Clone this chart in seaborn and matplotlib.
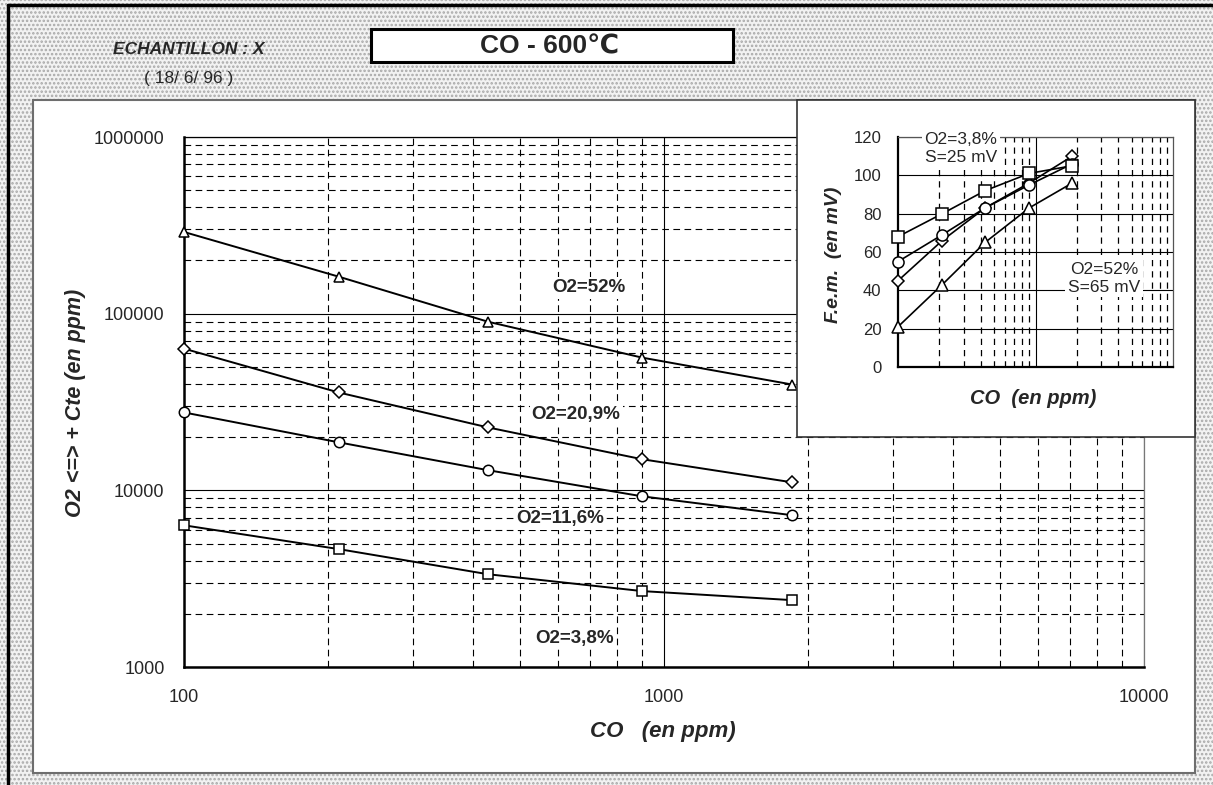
import matplotlib
matplotlib.use('Agg')
import matplotlib.pyplot as plt
from matplotlib.patches import Rectangle
from matplotlib.lines import Line2D
from matplotlib.ticker import LogLocator, NullFormatter, FixedLocator
import seaborn as sns

# CO concentration (ppm) of the measuring points
CO_PPM = [100, 210, 430, 900, 1850]

SERIES = ['O2=52%', 'O2=20,9%', 'O2=11,6%', 'O2=3,8%']
MARKERS = ['^', 'D', 'o', 's']

# main chart: O2 <=> + Cte (ppm)
EQ_52 = [290000, 162000, 90000, 56400, 39700]
EQ_209 = [63400, 35800, 22700, 15000, 11100]
EQ_116 = [27600, 18700, 13000, 9250, 7230]
EQ_38 = [6340, 4650, 3350, 2690, 2390]

# inset: F.e.m. (mV)
FEM_52 = [21, 43, 65, 83, 96]
FEM_209 = [45, 66, 83, 96, 110]
FEM_116 = [55, 69, 83, 95, 106]
FEM_38 = [68, 80, 92, 101, 105]

X_TICKS = [100, 1000, 10000]
Y_TICKS = [1000, 10000, 100000, 1000000]
INSET_Y_TICKS = [0, 20, 40, 60, 80, 100, 120]

W, H = 1213, 785


def fx(x):
    return x / W


def fy(y):
    return 1 - y / H


def box(x0, y0, x1, y1):
    # pixel box -> figure rect
    return [fx(x0), fy(y1), (x1 - x0) / W, (y1 - y0) / H]


DASH = (0, (6, 4))

sns.set_style('white')
plt.rcParams['font.family'] = ['Liberation Sans', 'DejaVu Sans']
plt.rcParams['hatch.linewidth'] = 1.2

fig = plt.figure(figsize=(W / 100, H / 100), dpi=100)

# stippled background
bg = Rectangle((0, 0), 1, 1, transform=fig.transFigure, facecolor='#f2f2f2',
               edgecolor='#a8a8a8', hatch='....', lw=0, zorder=-10)
fig.add_artist(bg)
fig.add_artist(Line2D([fx(8), fx(8)], [0, fy(5)], color='black', lw=2.5))
fig.add_artist(Line2D([fx(8), 1], [fy(5), fy(5)], color='black', lw=2.5))

# white panel
panel = Rectangle((fx(33), fy(773)), (1195 - 33) / W, (773 - 100) / H, transform=fig.transFigure,
                  facecolor='white', edgecolor='#6e6e6e', lw=1.5, zorder=-5)
fig.add_artist(panel)

# title box
tb = Rectangle((fx(371), fy(62)), (733 - 371) / W, (62 - 29) / H, transform=fig.transFigure,
               facecolor='white', edgecolor='black', lw=2.2, zorder=-5)
fig.add_artist(tb)
fig.text(fx(550), fy(46), 'CO - 600\u2103', ha='center', va='center', fontsize=19, weight='bold')
fig.text(fx(189), fy(50), 'ECHANTILLON : X', ha='center', va='center', fontsize=12.5,
         weight='bold', style='italic')
fig.text(fx(189), fy(78), '( 18/ 6/ 96 )', ha='center', va='center', fontsize=12.5)

# ---- main chart
ax = fig.add_axes(box(184, 137, 1144, 667))
eq_data = [EQ_52, EQ_209, EQ_116, EQ_38]
for vals, m in zip(eq_data, MARKERS):
    ms = 6.5 if m == 'D' else 7.5
    sns.lineplot(x=CO_PPM, y=vals, ax=ax, color='black', lw=1.4, marker=m, markersize=ms,
                 markerfacecolor='white', markeredgecolor='black', markeredgewidth=1.1,
                 legend=False, zorder=5, clip_on=False)

ax.set_xscale('log')
ax.set_yscale('log')
ax.set_xlim(100, 10000)
ax.set_ylim(1000, 1000000)
ax.xaxis.set_major_locator(FixedLocator(X_TICKS))
ax.yaxis.set_major_locator(FixedLocator(Y_TICKS))
ax.set_xticklabels([str(v) for v in X_TICKS])
ax.set_yticklabels([str(v) for v in Y_TICKS])
ax.xaxis.set_minor_locator(LogLocator(base=10, subs=range(2, 10)))
ax.yaxis.set_minor_locator(LogLocator(base=10, subs=range(2, 10)))
ax.xaxis.set_minor_formatter(NullFormatter())
ax.yaxis.set_minor_formatter(NullFormatter())
ax.tick_params(which='both', length=0, labelsize=13)
ax.tick_params(axis='x', pad=16)
ax.tick_params(axis='y', pad=14)
ax.grid(which='major', ls='-', lw=0.8, color='black')
ax.grid(which='minor', ls=DASH, lw=0.8, color='black')
ax.set_axisbelow(True)
for side in ['left', 'bottom']:
    ax.spines[side].set_linewidth(1.8)
    ax.spines[side].set_color('black')
ax.spines['top'].set_linewidth(0.9)
ax.spines['top'].set_color('black')
ax.spines['right'].set_linewidth(0.9)
ax.spines['right'].set_color('#777777')

ax.set_xlabel('CO   (en ppm)', fontsize=16, weight='bold', style='italic')
ax.xaxis.set_label_coords((663 - 184) / 960, (667 - 731) / 530)
ax.xaxis.label.set_va('center')
ax.set_ylabel('O2 <=> + Cte (en ppm)', fontsize=15.5, weight='bold', style='italic')
ax.yaxis.set_label_coords((75 - 184) / 960, (667 - 403) / 530)
ax.yaxis.label.set_va('center')

label_pos = [(589, 288), (576, 415), (560, 519), (575, 638)]
for name, (px, py) in zip(SERIES, label_pos):
    ax.text((px - 184) / 960, (667 - py) / 530, name, transform=ax.transAxes, ha='center',
            va='center', fontsize=13.5, weight='bold', zorder=6,
            bbox=dict(facecolor='white', edgecolor='none', pad=1.5))

# ---- inset
ibox = Rectangle((fx(797), fy(437)), (1195 - 797) / W, (437 - 100) / H, transform=fig.transFigure,
                 facecolor='white', edgecolor='#333333', lw=1.2, zorder=2)
fig.add_artist(ibox)

iax = fig.add_axes(box(898, 137, 1173, 367))
iax.set_zorder(3)
iax.patch.set_alpha(0)
fem_data = [FEM_52, FEM_209, FEM_116, FEM_38]
for vals, m in zip(fem_data, MARKERS):
    ms = 6.5 if m == 'D' else 8
    sns.lineplot(x=CO_PPM, y=vals, ax=iax, color='black', lw=1.2, marker=m, markersize=ms,
                 markerfacecolor='white', markeredgecolor='black', markeredgewidth=1.1,
                 legend=False, zorder=5, clip_on=False)
iax.set_xscale('log')
iax.set_xlim(100, 10000)
iax.set_ylim(0, 120)
iax.yaxis.set_major_locator(FixedLocator(INSET_Y_TICKS))
iax.xaxis.set_major_locator(FixedLocator([1000]))
iax.xaxis.set_minor_locator(LogLocator(base=10, subs=range(2, 10)))
iax.xaxis.set_major_formatter(NullFormatter())
iax.xaxis.set_minor_formatter(NullFormatter())
iax.tick_params(which='both', length=0, labelsize=12)
iax.tick_params(axis='y', pad=12)
iax.grid(which='major', ls='-', lw=0.8, color='black')
iax.grid(which='minor', axis='x', ls=(0, (5, 4)), lw=0.9, color='black')
iax.set_axisbelow(True)
for side in ['left', 'bottom']:
    iax.spines[side].set_linewidth(1.6)
    iax.spines[side].set_color('black')
for side in ['top', 'right']:
    iax.spines[side].set_linewidth(0.9)
    iax.spines[side].set_color('#555555')

iax.set_xlabel('CO  (en ppm)', fontsize=14.5, weight='bold', style='italic')
iax.xaxis.set_label_coords((1033 - 898) / 275, (367 - 398) / 230)
iax.xaxis.label.set_va('center')
iax.set_ylabel('F.e.m.  (en mV)', fontsize=14, weight='bold', style='italic')
iax.yaxis.set_label_coords((833 - 898) / 275, (367 - 255) / 230)
iax.yaxis.label.set_va('center')

iax.text((961 - 898) / 275, (367 - 149) / 230, 'O2=3,8%\nS=25 mV', transform=iax.transAxes,
         ha='center', va='center', fontsize=12.5, linespacing=1.25, zorder=6,
         bbox=dict(facecolor='white', edgecolor='none', pad=2))
iax.text((1104 - 898) / 275, (367 - 278) / 230, 'O2=52%\nS=65 mV', transform=iax.transAxes,
         ha='center', va='center', fontsize=12.5, linespacing=1.25, zorder=6,
         bbox=dict(facecolor='white', edgecolor='none', pad=2))

fig.savefig('out.png', dpi=100)
